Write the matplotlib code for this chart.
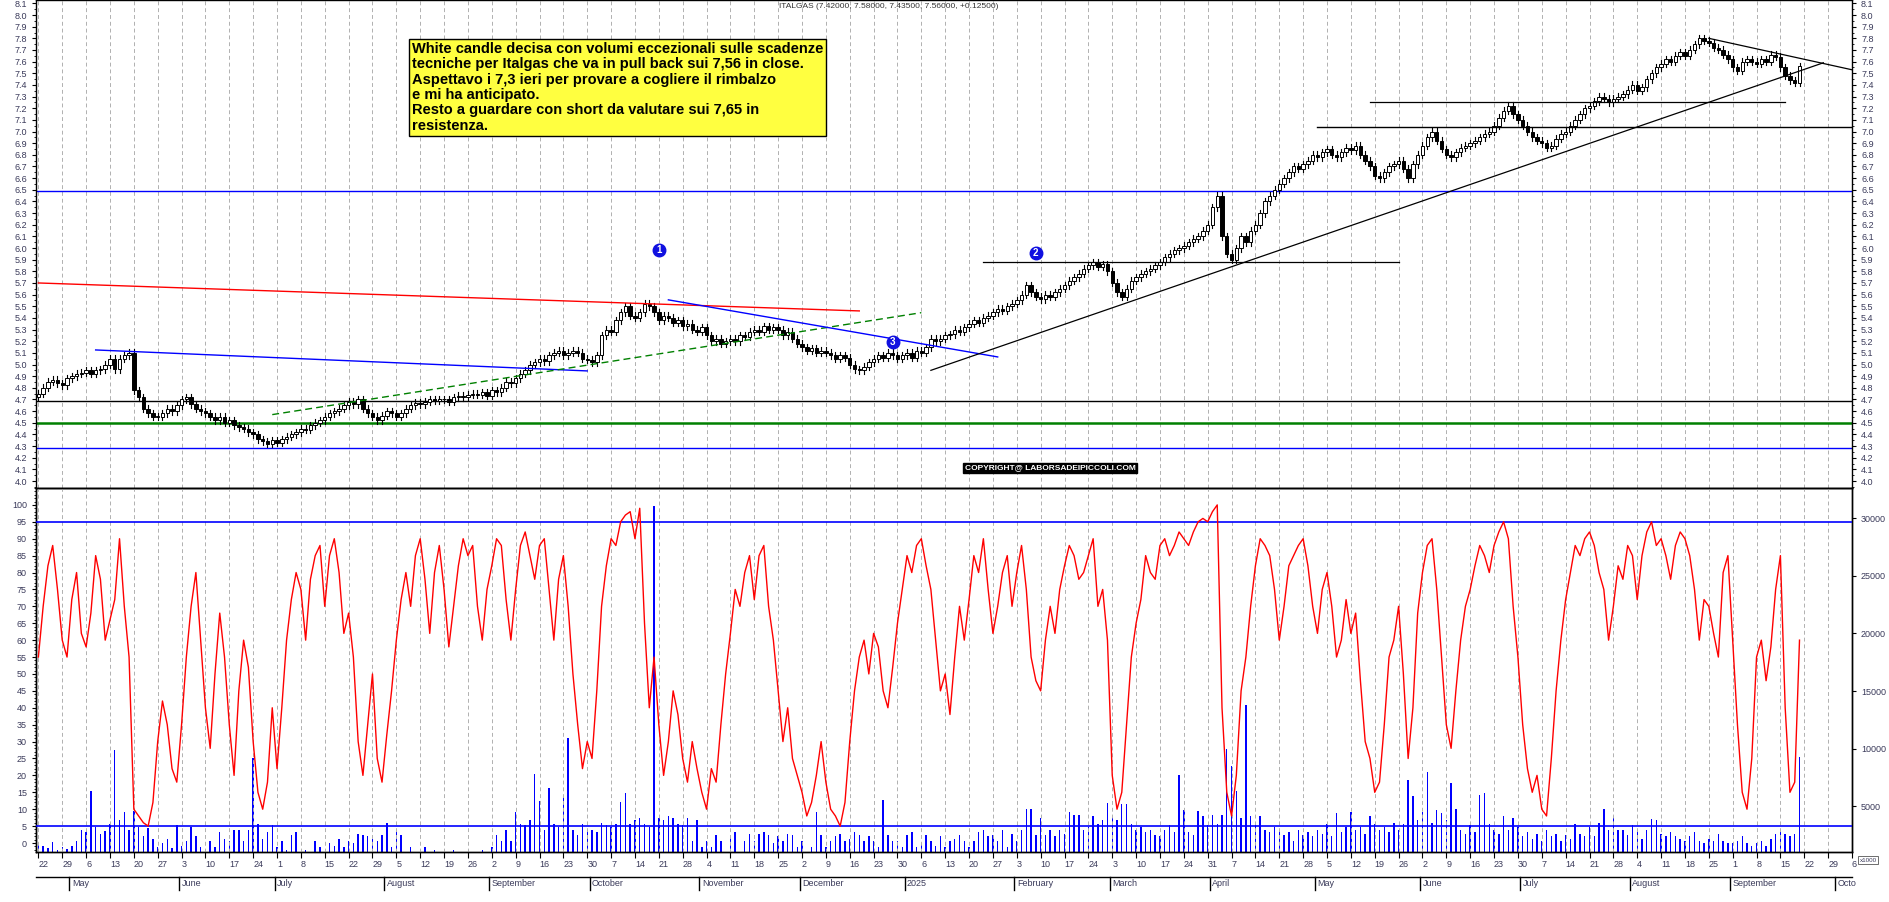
import numpy as np
import pandas as pd
import matplotlib
matplotlib.use("Agg")
import matplotlib.pyplot as plt
from matplotlib.patches import Rectangle
import matplotlib.transforms as mtransforms

# ---------------- data ----------------
start_date = "2024-04-22"
closes = [
 4.75,4.80,4.85,4.87,4.84, 4.82,4.88,4.90,4.92,4.93, 4.95,4.92,4.95,4.96,5.00, 5.05,4.96,5.05,5.08,5.10,
 4.78,4.72,4.62,4.58,4.55, 4.55,4.58,4.62,4.60,4.65, 4.70,4.72,4.66,4.62,4.60, 4.58,4.55,4.52,4.55,4.50,
 4.52,4.48,4.46,4.45,4.42, 4.40,4.36,4.34,4.32,4.35, 4.33,4.36,4.38,4.40,4.42, 4.45,4.44,4.48,4.50,4.52,
 4.55,4.58,4.60,4.62,4.65, 4.68,4.66,4.70,4.62,4.58, 4.55,4.52,4.56,4.60,4.58, 4.55,4.58,4.62,4.65,4.67,
 4.66,4.68,4.70,4.69,4.70, 4.70,4.68,4.72,4.73,4.72, 4.74,4.75,4.74,4.76,4.73, 4.78,4.76,4.80,4.85,4.84,
 4.88,4.92,4.95,5.00,5.02, 5.05,5.03,5.08,5.10,5.12, 5.08,5.10,5.12,5.10,5.05, 5.04,5.02,5.08,5.25,5.30,
 5.28,5.38,5.45,5.50,5.42, 5.40,5.45,5.52,5.50,5.45, 5.38,5.42,5.40,5.36,5.38, 5.33,5.35,5.30,5.28,5.32,
 5.25,5.20,5.22,5.18,5.20, 5.22,5.20,5.25,5.24,5.28, 5.30,5.28,5.33,5.30,5.32, 5.30,5.25,5.28,5.22,5.18,
 5.15,5.12,5.14,5.10,5.12, 5.10,5.08,5.05,5.08,5.06, 5.00,4.96,4.95,4.98,5.02, 5.05,5.08,5.06,5.10,5.08,
 5.05,5.08,5.10,5.06,5.12,
 5.10,5.15,5.22,5.20,5.22, 5.25,5.26,5.30,5.28,5.32, 5.35,5.38,5.36,5.40,5.42, 5.45,5.48,5.46,5.50,5.52,
 5.55,5.60,5.68,5.62,5.58, 5.56,5.60,5.58,5.62,5.65, 5.68,5.72,5.75,5.78,5.82, 5.85,5.88,5.84,5.86,5.80,
 5.70,5.62,5.58,5.65,5.72, 5.75,5.78,5.80,5.82,5.85, 5.88,5.92,5.95,5.98,6.00, 6.02,6.05,6.08,6.10,6.15,
 6.20,6.35,6.45,6.10,5.95, 5.90,6.00,6.10,6.05,6.15, 6.20,6.30,6.40,6.45,6.50, 6.55,6.60,6.65,6.70,6.68,
 6.72,6.75,6.80,6.78,6.82, 6.85,6.80,6.78,6.82,6.86, 6.84,6.88,6.80,6.75,6.70, 6.62,6.60,6.65,6.70,6.72,
 6.75,6.68,6.60,6.72,6.80, 6.88,6.95,7.00,6.92,6.85, 6.80,6.78,6.82,6.86,6.88, 6.90,6.92,6.95,6.98,7.00,
 7.05,7.12,7.18,7.22,7.15, 7.10,7.05,7.00,6.95,6.92, 6.90,6.86,6.88,6.94,6.98, 7.00,7.05,7.10,7.15,7.20,
 7.22,7.26,7.30,7.28,7.25, 7.28,7.30,7.32,7.36,7.40, 7.35,7.38,7.45,7.50,7.55, 7.58,7.62,7.60,7.65,7.68,
 7.65,7.70,7.75,7.80,7.78, 7.76,7.72,7.70,7.66,7.62, 7.55,7.52,7.60,7.62,7.60, 7.58,7.62,7.60,7.66,7.64,
 7.55,7.48,7.44,7.42,7.56]
first_open = 4.72
last_open = 7.42
oscillator = [
 55,70,82,88,75, 60,55,72,80,62, 58,68,85,78,60, 66,72,90,70,55, 10,8,6,5,12, 30,42,35,22,18,
 35,55,70,80,60, 40,28,50,68,55, 35,20,45,60,52, 30,15,10,18,40, 22,40,60,72,80, 75,60,78,85,88,
 70,85,90,80,62, 68,55,30,20,35, 50,25,18,32,45, 60,72,80,70,85, 90,78,62,80,88, 75,58,70,82,90,
 85,88,70,60,75, 82,90,88,72,60, 75,88,92,85,78, 88,90,75,60,78, 85,70,50,35,22, 30,25,45,70,82,
 90,88,95,97,98, 90,99,65,40,55, 35,20,30,45,38, 25,18,30,22,15, 10,22,18,35,50, 62,75,70,80,85,
 72,85,88,70,60, 45,30,40,25,20, 15,8,12,20,30, 18,10,8,5,12, 30,45,55,60,50, 62,58,45,40,52,
 65,75,85,80,88,
 90,82,75,60,45, 50,38,55,70,60, 72,85,80,90,75, 62,70,80,85,70, 80,88,75,55,48, 45,60,70,62,75,
 82,88,85,78,80, 85,90,70,75,60, 20,10,15,35,55, 65,72,85,80,78, 88,90,85,88,92, 90,88,92,95,96,
 95,98,100,40,15, 8,20,45,55,70, 82,90,88,85,75, 60,70,82,85,88, 90,82,70,62,75, 80,70,55,60,72,
 62,68,48,30,25, 15,18,35,55,60, 70,50,25,40,68, 80,88,90,75,55, 35,28,45,60,70, 75,82,88,85,80,
 88,92,95,90,70, 55,35,22,15,20, 10,8,25,45,60, 72,80,88,85,90, 92,88,80,75,60, 70,82,78,88,85,
 72,85,92,95,88, 90,85,78,88,92, 90,85,75,60,72, 70,62,55,80,85, 60,35,15,10,25, 55,60,48,58,75,
 85,40,15,18,60]
volume_k = [
 1.8,1.6,1.4,1.9,1.2, 1.5,1.3,1.6,2.0,3.0, 2.8,6.3,3.2,2.6,2.9, 3.5,9.9,3.8,4.5,3.0,
 4.6,3.2,2.4,3.1,2.2, 1.5,1.8,2.2,1.4,3.4, 1.6,2.0,3.2,2.4,1.5, 1.2,2.0,1.5,2.8,2.2,
 2.0,3.0,3.0,2.0,3.0, 9.2,3.5,2.2,2.8,3.4, 1.5,2.0,1.2,2.5,2.8, 1.0,1.2,1.0,2.0,1.5,
 1.0,1.8,1.6,2.2,1.5, 2.0,1.8,2.6,2.5,2.4, 2.2,2.0,2.5,3.6,1.5, 2.8,2.5,1.0,1.5,0.8,
 0.5,1.5,1.0,1.2,0.6, 0.8,0.4,1.2,0.8,1.0, 0.5,1.0,0.4,1.2,1.0, 1.5,2.5,2.0,3.0,2.0,
 4.5,3.5,3.4,3.8,7.8, 5.5,3.0,6.6,3.5,3.2, 5.8,10.9,3.0,2.5,3.5, 3.0,3.0,2.8,3.6,3.4,
 3.2,3.5,5.4,6.2,3.5, 3.8,4.0,3.5,3.2,31.0, 4.0,3.8,4.2,4.0,3.5, 3.4,4.0,2.0,3.8,1.5,
 2.0,1.5,2.5,2.0,1.0, 2.5,2.8,1.0,2.0,2.6, 2.0,2.6,2.8,2.5,1.8, 2.4,2.0,2.6,2.5,1.5,
 2.0,1.0,1.5,4.5,2.5, 1.5,2.0,2.4,2.6,2.0, 2.2,2.8,2.5,2.0,2.4, 2.0,1.5,5.6,2.5,2.0,
 2.0,1.5,2.5,2.8,1.5,
 1.8,2.5,2.0,1.6,2.4, 1.5,2.0,2.2,2.5,2.0, 1.5,2.0,2.8,3.0,2.4, 2.5,2.0,3.0,1.5,2.6,
 2.0,3.0,4.8,4.8,2.5, 4.0,2.5,3.0,2.4,3.0, 2.6,4.5,4.3,4.3,3.0, 3.2,4.2,3.5,3.8,5.3,
 4.1,3.8,5.2,5.2,3.5, 3.0,3.2,2.8,3.0,2.5, 2.4,3.0,3.4,2.8,7.7, 4.7,2.8,2.5,4.6,4.2,
 3.4,4.3,3.5,4.3,10.0, 8.5,6.3,4.0,13.8,4.2, 3.5,4.2,3.0,2.8,3.2, 3.0,2.5,2.8,2.0,3.0,
 2.5,2.8,2.4,3.0,2.6, 3.5,2.4,4.4,2.8,3.2, 4.5,3.0,3.2,2.6,4.2, 3.5,3.0,3.2,2.8,3.6,
 3.0,3.5,7.3,5.9,3.8, 4.5,8.0,3.6,4.7,4.4, 3.8,7.0,4.8,3.0,2.6, 3.4,2.8,6.0,6.2,3.5,
 3.0,2.6,4.2,3.0,4.0, 3.2,2.4,2.8,2.2,2.6, 2.0,3.0,2.4,2.6,2.0, 2.5,2.2,3.5,2.6,2.4,
 3.2,2.4,3.6,4.8,3.0, 4.2,3.0,3.0,2.5,3.4, 2.8,2.2,3.0,3.9,3.8, 2.6,2.4,2.8,2.4,2.2,
 2.0,2.4,2.8,2.0,1.8, 2.2,2.0,2.6,2.0,1.8, 1.8,2.0,2.4,1.8,1.6, 1.8,2.0,1.6,2.2,2.6,
 2.8,2.6,2.4,2.6,9.3]

title_text = "ITALGAS (7.42000, 7.58000, 7.43500, 7.56000, +0.12500)"
note_text = ("White candle decisa con volumi eccezionali sulle scadenze\n"
             "tecniche per Italgas che va in pull back sui 7,56 in close.\n"
             "Aspettavo i 7,3 ieri per provare a cogliere il rimbalzo\n"
             "e mi ha anticipato.\n"
             "Resto a guardare con short da valutare sui 7,65 in\n"
             "resistenza.")
copyright_text = "COPYRIGHT@ LABORSADEIPICCOLI.COM"

# drawn lines: (x0 idx, y0, x1 idx, y1, color, style, width)
trend_lines = [
    (0, 5.70, 172, 5.46, "red", "-", 1.0),
    (12, 5.125, 115, 4.945, "blue", "-", 1.0),
    (49, 4.57, 185, 5.445, "green", (0, (5, 3)), 1.0),
    (132, 5.555, 201, 5.065, "blue", "-", 1.0),
    (187, 4.95, 374, 7.59, "black", "-", 0.9),
    (350, 7.80, 380, 7.53, "black", "-", 0.9),
    (268, 7.04, 380, 7.04, "black", "-", 1.0),
    (279, 7.25, 366, 7.25, "black", "-", 0.9),
    (198, 5.88, 285, 5.88, "black", "-", 0.9),
]
full_hlines = [(6.49, "blue", 1.0), (4.69, "black", 1.0), (4.495, "green", 1.8), (4.28, "blue", 1.0)]
markers = [(130, 5.98, "1"), (209, 5.96, "2"), (179, 5.19, "3")]

# ---------------- figure ----------------
W, H = 1890, 902
fig = plt.figure(figsize=(W / 100, H / 100), dpi=100)
plt.rcParams["font.family"] = "Liberation Sans"
L = 36 / W
R = 1852 / W
ax1 = fig.add_axes([L, 1 - 488 / H, R - L, 488 / H])
ax2 = fig.add_axes([L, 1 - 852 / H, R - L, (852 - 488) / H], sharex=ax1)
ax2r = ax2.twinx()

n = len(closes)
dates = pd.bdate_range(start_date, periods=382)
xs = np.arange(n)
opens = [first_open] + closes[:-1]
opens[-1] = last_open
for i in range(n):
    o, c = opens[i], closes[i]
    hi = max(o, c) + 0.03
    lo = min(o, c) - 0.03
    ax1.plot([i, i], [lo, hi], color="black", lw=0.8, zorder=3)
    b = min(o, c)
    h = max(abs(c - o), 0.008)
    ax1.add_patch(Rectangle((i - 0.36, b), 0.72, h, facecolor="white" if c >= o else "black",
                            edgecolor="black", lw=0.7, zorder=4))

XL = (-0.5, 379.5)
ax1.set_xlim(*XL)
ax1.set_ylim(3.94, 8.129)

mondays = [i for i, d in enumerate(dates) if d.weekday() == 0]
for ax in (ax1, ax2):
    for m in mondays:
        ax.axvline(m, color="#b0b0b0", lw=0.7, ls=(0, (4, 3)), zorder=0)

for (y, c, w) in full_hlines:
    ax1.axhline(y, color=c, lw=w, zorder=2)
for (x0, y0, x1, y1, c, s, w) in trend_lines:
    ax1.plot([x0, x1], [y0, y1], color=c, ls=s, lw=w, zorder=5)
for (x, y, t) in markers:
    ax1.plot(x, y, "o", ms=9, color="#1010e0", zorder=6)
    ax1.text(x, y, t, color="white", fontsize=7, fontweight="bold", ha="center", va="center", zorder=7)

yt = np.round(np.arange(4.0, 8.15, 0.1), 1)
ax1.set_yticks(yt)
ax1.set_yticklabels([f"{v:.1f}" for v in yt])
ax1.yaxis.set_minor_locator(matplotlib.ticker.MultipleLocator(0.05))
ax1.tick_params(axis="y", which="both", left=True, right=True, labelleft=True, labelright=True,
                labelsize=6.5, labelcolor="#3a3a5a", length=3, direction="out")
ax1.tick_params(axis="y", which="minor", length=1.5)
ax1.tick_params(axis="x", bottom=False, labelbottom=False)

# lower panel
ax2.plot(xs, oscillator, color="red", lw=1.0, zorder=4)
ax2.set_ylim(-2.66, 105.0)
ax2.axhline(95, color="blue", lw=1.2, zorder=3)
ax2.axhline(5, color="blue", lw=1.2, zorder=3)
ax2.set_yticks(np.arange(0, 101, 5))
ax2.yaxis.set_minor_locator(matplotlib.ticker.MultipleLocator(1))
ax2.tick_params(axis="y", which="both", labelsize=6.5, labelcolor="#3a3a5a", length=3)
ax2.tick_params(axis="y", which="minor", length=1.5)

vb = 1056
ax2r.bar(xs, [v * 1000 - vb for v in volume_k], bottom=vb, width=0.3, color="blue", zorder=2)
ax2r.set_ylim(vb, 32600)
ax2r.set_yticks(np.arange(5000, 30001, 5000))
ax2r.tick_params(axis="y", labelsize=6.5, labelcolor="#3a3a5a", length=3)
ax2.set_zorder(ax2r.get_zorder() + 1)
ax2.patch.set_visible(False)

ax2.set_xticks(mondays)
ax2.set_xticklabels([str(dates[m].day) for m in mondays], ha="left")
ax2.tick_params(axis="x", labelsize=6.5, labelcolor="#3a3a5a", length=4, pad=2)

# month row
trans = mtransforms.blended_transform_factory(ax2.transData, fig.transFigure)
prev = None
for i, d in enumerate(dates):
    if i > XL[1]:
        break
    if prev is not None and d.month != prev:
        name = "2025" if (d.year == 2025 and d.month == 1) else d.strftime("%B")
        if d.month == 10 and d.year == 2025:
            name = "Octo"
        fig.add_artist(plt.Line2D([i - 0.5, i - 0.5], [1 - 890 / H, 1 - 877 / H], transform=trans,
                                  color="black", lw=1.0))
        fig.text(i, 1 - 884 / H, name, transform=trans, fontsize=6.5, color="#3a3a5a",
                 ha="left", va="center")
    prev = d.month
fig.add_artist(plt.Line2D([L, R], [1 - 877 / H, 1 - 877 / H], transform=fig.transFigure,
                          color="black", lw=1.0))

for ax in (ax1, ax2, ax2r):
    for s in ax.spines.values():
        s.set_linewidth(1.0)

fig.text(0.47, 1 - 7 / H, title_text, fontsize=6, color="#333333", ha="center", va="center")
fig.text(412 / W, 1 - 42 / H, note_text, fontsize=10.5, fontweight="bold", ha="left", va="top",
         linespacing=1.12,
         bbox=dict(boxstyle="square,pad=0.2", facecolor="#ffff40", edgecolor="black", lw=1))
fig.text(1050 / W, 1 - 468 / H, copyright_text, fontsize=6, fontweight="bold", color="white",
         ha="center", va="center",
         bbox=dict(boxstyle="square,pad=0.15", facecolor="black", edgecolor="black"))
fig.text(1868 / W, 1 - 860 / H, "x1000", fontsize=4.5, color="#3a3a5a", ha="center", va="center",
         bbox=dict(boxstyle="square,pad=0.2", facecolor="white", edgecolor="#555555", lw=0.6))

fig.savefig("out.png", dpi=100)
